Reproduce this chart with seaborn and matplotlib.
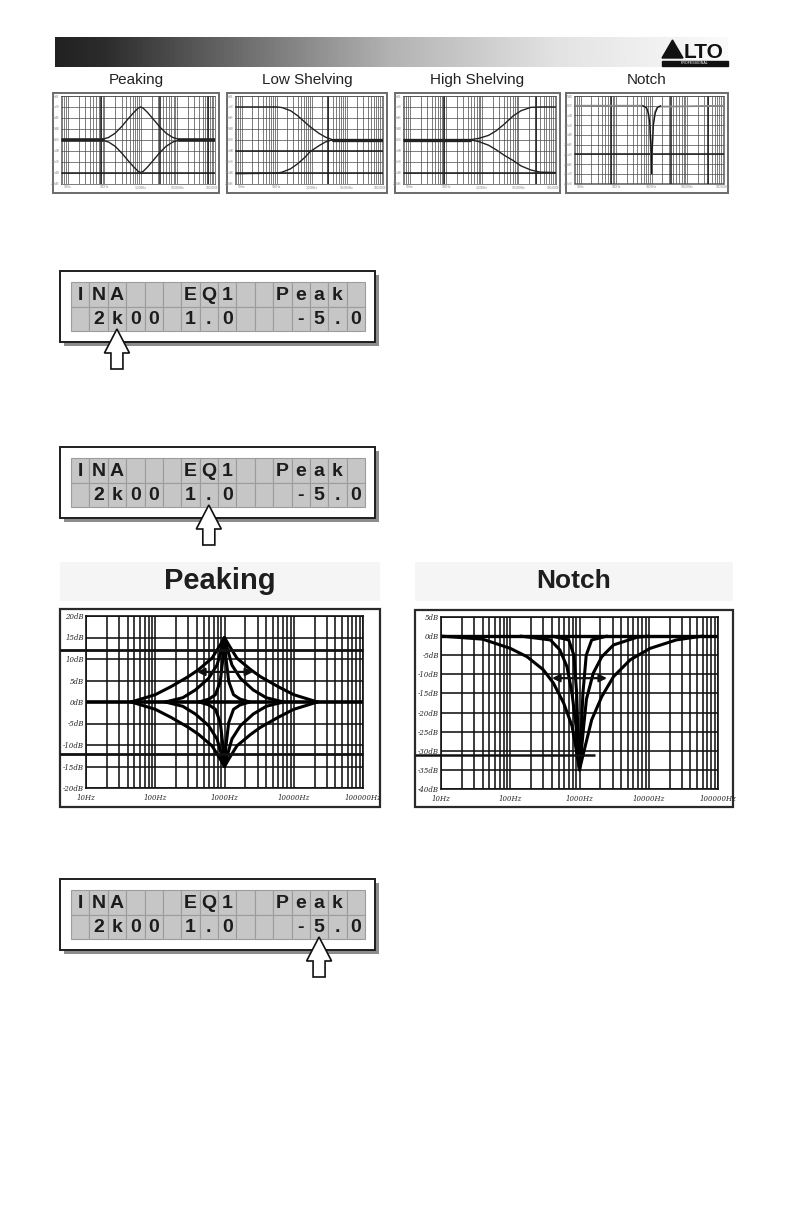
import numpy as np
import matplotlib
matplotlib.use("Agg")
import matplotlib.pyplot as plt
import seaborn as sns
from matplotlib.patches import Rectangle, Polygon
from matplotlib.ticker import LogLocator, NullFormatter

W, H = 793, 1225

# ---------------- data read from the page ----------------
FREQ_TICKS = [10, 100, 1000, 10000, 100000]
SMALL_FREQ_LABELS = ["10Hz", "100Hz", "1,000Hz", "10,000Hz", "100,000Hz"]
NOTCH_FREQ_LABELS = ["10Hz", "100Hz", "1000Hz", "10000Hz", "100000Hz"]
BIG_FREQ_LABELS = ["10Hz", "100Hz", "1000Hz", "10000Hz", "100000Hz"]

SMALL_TITLES = ["Peaking", "Low Shelving", "High Shelving", "Notch"]

# small peaking
SP_HZ = [80, 130, 200, 300, 450, 650, 850, 1000, 1180, 1540, 2200, 3300, 5000, 7700, 12500]
SP_BOOST = [0, 1, 3, 6, 9.5, 12.5, 14.4, 15, 14.4, 12.5, 9.5, 6, 3, 1, 0]
SP_CUT = [0, -1, -3, -6, -9.5, -12.5, -14.4, -15, -14.4, -12.5, -9.5, -6, -3, -1, 0]
SP_FLAT_LEFT = [6.5, 90]
SP_FLAT_RIGHT = [11000, 110000]

# small low shelving
LS_HZ = [6.5, 100, 145, 250, 400, 650, 900, 1600, 2500, 4000]
LS_TOP = [15, 15, 14.7, 13.3, 11, 8, 6, 3, 1.2, 0]
LS_BOTTOM = [-15.5, -15.3, -14.8, -13.3, -11, -8, -5.5, -2.8, -1, 0]
LS_FLAT = [4000, 110000]

# small high shelving
HS_HZ = [6.5, 450, 800, 1500, 2400, 4000, 7200, 12000, 22000, 40000, 110000]
HS_TOP = [0, 0, 0.6, 2, 4, 7, 10.9, 13.3, 14.8, 15, 15]
HS_BOTTOM = [0, 0, -0.8, -2.5, -4.5, -7, -9.5, -12, -13.8, -14.8, -15]
HS_FLAT = [6.5, 450]

# small notch
NS_GRAY_HZ = [6.5, 550, 700, 800, 880, 940, 980, 1000, 1030, 1100, 1250, 1500, 110000]
NS_GRAY_DB = [0, 0, -1, -4, -10, -20, -30, -35, -25, -10, -3, -0.5, 0]
NS_HZ = [560, 720, 820, 900, 960, 1000, 1040, 1120, 1260, 1450, 1800]
NS_DB = [0, -1, -4, -10, -22, -35, -22, -10, -4, -1, 0]

# big peaking
PK_DB_TICKS = [20, 15, 10, 5, 0, -5, -10, -15, -20]
PK_WIDE_HZ = [45, 100, 170, 300, 420, 660, 870, 1000, 1150, 1510, 2400, 3300, 5900, 10000, 22000]
PK_WIDE_UP = [0, 1.7, 3.6, 5.9, 7.5, 10.2, 13.3, 15, 13.3, 10.2, 7.5, 5.9, 3.6, 1.7, 0]
PK_WIDE_DOWN = [0, -1.7, -3.6, -5.9, -7.5, -10.2, -13.3, -15, -13.3, -10.2, -7.5, -5.9, -3.6, -1.7, 0]
PK_MID_HZ = [140, 250, 380, 590, 780, 910, 1000, 1100, 1280, 1700, 2600, 4000, 7100]
PK_MID_UP = [0, 1, 2.8, 5.5, 8.6, 12.4, 15, 12.4, 8.6, 5.5, 2.8, 1, 0]
PK_MID_DOWN = [0, -1, -2.8, -5.5, -8.6, -12.4, -15, -12.4, -8.6, -5.5, -2.8, -1, 0]
PK_SHARP_HZ = [430, 600, 740, 870, 950, 1000, 1050, 1150, 1350, 1670, 2300]
PK_SHARP_UP = [0, 0.7, 1.7, 4.8, 10.2, 15, 10.2, 4.8, 1.7, 0.7, 0]
PK_SHARP_DOWN = [0, -0.7, -1.7, -4.8, -10.2, -15, -10.2, -4.8, -1.7, -0.7, 0]
PK_FLAT = [10, 100000]
PK_MARK_LEVELS = [12, -12]
PK_ARROW = (400, 2600, 7)

# big notch
NT_DB_TICKS = [5, 0, -5, -10, -15, -20, -25, -30, -35, -40]
NT_WIDE_HZ = [10, 40, 100, 175, 300, 420, 590, 780, 910, 1000, 1150, 1500, 2100, 3100, 5400, 10500, 25000, 60000]
NT_WIDE_DB = [0, -0.8, -3.2, -5.4, -8.8, -12.3, -17.5, -23.5, -30.4, -35, -30.4, -21.9, -15.8, -10.6, -6.2, -3.2, -1, 0]
NT_MID_HZ = [140, 380, 520, 660, 780, 890, 960, 1000, 1040, 1150, 1260, 1580, 2100, 3100, 6800, 10000]
NT_MID_DB = [0, -1, -3.6, -8, -15, -23.5, -32, -35, -32, -23.5, -16.5, -9.7, -5.4, -2.3, -0.3, 0]
NT_SHARP_HZ = [400, 700, 830, 910, 960, 1000, 1040, 1120, 1250, 1500, 2500]
NT_SHARP_DB = [0, -1, -5, -15, -28, -35, -28, -15, -5, -1, 0]
NT_FLAT = [10, 100000]
NT_MARK = (-31, 1660)
NT_ARROW = (400, 2500, -11)

# LCD screens
LCD_ROW1 = "INA   EQ1  Peak "
LCD_ROW2 = " 2k00 1.0   -5.0"
LCD_CURSOR_COLS = [2, 7, 13]

# ---------------- style ----------------
sns.set_theme(style="white")
plt.rcParams['font.family'] = ['Liberation Sans', 'DejaVu Sans']


def px_rect(x0, y0, x1, y1):
    return [x0 / W, 1 - y1 / H, (x1 - x0) / W, (y1 - y0) / H]


def curve(ax, hz, db, lw=2.2, color='black'):
    sns.lineplot(x=hz, y=db, ax=ax, estimator=None, sort=False, color=color,
                 linewidth=lw, solid_joinstyle='round', solid_capstyle='round', legend=False)


fig = plt.figure(figsize=(W / 100, H / 100), dpi=100)
bg = fig.add_axes([0, 0, 1, 1])
bg.axis('off')

# ---------------- header bar ----------------
t = np.linspace(0, 1, 400)
grad = np.interp(t, [0, 0.07, 0.5, 0.75, 1], [0.13, 0.17, 0.70, 0.89, 0.98])[None, :]
bg.imshow(grad, extent=(55, 728, 67, 37), cmap='gray', vmin=0, vmax=1, aspect='auto', zorder=0)
bg.add_patch(Polygon([(662, 58), (672.5, 40), (683, 58)], closed=True, color='#111', zorder=2))
bg.text(683.5, 58, "LTO", fontsize=15, fontweight='bold', color='#111', ha='left', va='baseline', zorder=2)
bg.add_patch(Rectangle((662, 60.5), 66, 5, color='#111', zorder=2))
bg.text(695, 63, "PROFESSIONAL", fontsize=2.6, color='white', ha='center', va='center', zorder=3)

# ---------------- small charts ----------------
SMALL_BOXES = [(53, 93, 219, 193), (227, 93, 387, 193), (395, 93, 560, 193), (566, 93, 728, 193)]


def small_chart(i, ylim, dark_v, dark_h, xlabels):
    x0, y0, x1, y1 = SMALL_BOXES[i]
    bg.text((x0 + x1) / 2, 80, SMALL_TITLES[i], fontsize=11, ha='center', va='center', color='#222')
    bg.add_patch(Rectangle((x0, y0), x1 - x0, y1 - y0, fill=False, ec='#6a6a6a', lw=1.4))
    ax = fig.add_axes(px_rect(x0 + 8, 96, x1 - 4, 183.5))
    ax.set_xscale('log')
    ax.set_xticks(FREQ_TICKS, labels=xlabels)
    ax.xaxis.set_minor_locator(LogLocator(base=10, subs=np.arange(2, 10), numticks=60))
    ax.xaxis.set_minor_formatter(NullFormatter())
    yt = np.arange(ylim[0], ylim[1] + 1, 5)
    ax.set_yticks(yt, labels=[f"{int(v)}dB" for v in yt])
    ax.grid(True, which='both', axis='x', color='#4a4a4a', lw=0.5)
    ax.grid(True, which='major', axis='y', color='#4a4a4a', lw=0.5)
    ax.tick_params(which='both', length=0, pad=1.2, labelsize=2.3, labelcolor='#888')
    for s in ax.spines.values():
        s.set_color('#4a4a4a')
        s.set_linewidth(0.5)
    for v in dark_v:
        ax.axvline(v, color='#1a1a1a', lw=1.1, zorder=1)
    for h in dark_h:
        ax.axhline(h, color='#1a1a1a', lw=1.1, zorder=1)
    ax.set_facecolor('white')
    return ax


ax = small_chart(0, (-20, 20), [80, 3500, 70000], [-15], SMALL_FREQ_LABELS)
curve(ax, SP_HZ, SP_BOOST, lw=1.0, color='#222')
curve(ax, SP_HZ, SP_CUT, lw=1.0, color='#222')
curve(ax, SP_FLAT_LEFT, [0, 0], lw=2.6, color='#222')
curve(ax, SP_FLAT_RIGHT, [0, 0], lw=2.6, color='#222')
ax.set_xlim(6.5, 110000); ax.set_ylim(-20, 20); ax.set_xlabel(''); ax.set_ylabel('')

ax = small_chart(1, (-20, 20), [3000], [-5, -15], SMALL_FREQ_LABELS)
curve(ax, LS_HZ, LS_TOP, lw=1.0, color='#222')
curve(ax, LS_HZ, LS_BOTTOM, lw=1.0, color='#222')
curve(ax, LS_FLAT, [0, 0], lw=2.4, color='#222')
ax.set_xlim(6.5, 110000); ax.set_ylim(-20, 20); ax.set_xlabel(''); ax.set_ylabel('')

ax = small_chart(2, (-20, 20), [90, 30000], [-15], SMALL_FREQ_LABELS)
curve(ax, HS_HZ, HS_TOP, lw=1.0, color='#222')
curve(ax, HS_HZ, HS_BOTTOM, lw=1.0, color='#222')
curve(ax, HS_FLAT, [0, 0], lw=2.4, color='#222')
ax.set_xlim(6.5, 110000); ax.set_ylim(-20, 20); ax.set_xlabel(''); ax.set_ylabel('')

ax = small_chart(3, (-40, 5), [70, 3500, 40000], [-25], NOTCH_FREQ_LABELS)
curve(ax, NS_GRAY_HZ, NS_GRAY_DB, lw=1.3, color='#8a8a8a')
curve(ax, NS_HZ, NS_DB, lw=0.9, color='#111')
ax.set_xlim(6.5, 110000); ax.set_ylim(-40, 5); ax.set_xlabel(''); ax.set_ylabel('')

# ---------------- LCD screens ----------------
LCD_TOPS = [271, 447, 879]
CELL_W = (365 - 71) / 16
for top, col in zip(LCD_TOPS, LCD_CURSOR_COLS):
    bg.add_patch(Rectangle((64, top + 4), 315, 71, color='#8c8c8c', lw=0, zorder=1))
    bg.add_patch(Rectangle((60, top), 315, 71, fc='white', ec='#1e1e1e', lw=1.4, zorder=2))
    for r, row in enumerate([LCD_ROW1, LCD_ROW2]):
        cy = top + 11 + r * 24.5
        for c, ch in enumerate(row):
            cx = 71 + c * CELL_W
            bg.add_patch(Rectangle((cx, cy), CELL_W, 24.5, fc='#c6c6c6', ec='#9c9c9c', lw=0.8, zorder=3))
            if ch != ' ':
                bg.text(cx + CELL_W / 2, cy + 13, ch, fontsize=14, fontweight='bold',
                        ha='center', va='center', color='#1c1c1c', zorder=4)
    ax_c = 71 + (col + 0.5) * CELL_W
    arrow = [(ax_c, top + 58), (ax_c + 12.5, top + 82), (ax_c + 6, top + 82), (ax_c + 6, top + 98),
             (ax_c - 6, top + 98), (ax_c - 6, top + 82), (ax_c - 12.5, top + 82)]
    bg.add_patch(Polygon(arrow, closed=True, fc='white', ec='#111', lw=1.2, zorder=5))

# ---------------- big charts ----------------
TICK_FONT = dict(fontsize=5, fontstyle='italic', fontfamily='DejaVu Serif', color='#222')


def big_chart(box, plot, title, tsize, ylim, yticks):
    bx0, by0, bx1, by1 = box
    bg.add_patch(Rectangle((bx0, 562), bx1 - bx0, 39, color='#f5f5f5', lw=0, zorder=1))
    bg.text((bx0 + bx1) / 2, 581, title, fontsize=tsize, fontweight='bold', ha='center',
            va='center', color='#1e1e1e', zorder=2)
    bg.add_patch(Rectangle((bx0, by0), bx1 - bx0, by1 - by0, fc='white', ec='#2a2a2a', lw=1.6, zorder=1))
    ax = fig.add_axes(px_rect(*plot))
    ax.set_xscale('log')
    ax.set_xticks(FREQ_TICKS, labels=BIG_FREQ_LABELS, **TICK_FONT)
    ax.xaxis.set_minor_locator(LogLocator(base=10, subs=np.arange(2, 10), numticks=60))
    ax.xaxis.set_minor_formatter(NullFormatter())
    ax.set_yticks(yticks, labels=[f"{v}dB" for v in yticks], **TICK_FONT)
    ax.grid(True, which='both', axis='x', color='#111', lw=1.15)
    ax.grid(True, which='major', axis='y', color='#111', lw=1.15)
    ax.tick_params(which='both', length=0)
    ax.tick_params(axis='x', pad=4.5)
    ax.tick_params(axis='y', pad=1.5)
    for s in ax.spines.values():
        s.set_color('#111')
        s.set_linewidth(1.2)
    return ax


ax = big_chart((60, 609, 380, 807), (86, 616, 363, 788), "Peaking", 21, (-20, 20), PK_DB_TICKS)
curve(ax, PK_FLAT, [0, 0], lw=2.6)
for hz, up, down in [(PK_WIDE_HZ, PK_WIDE_UP, PK_WIDE_DOWN),
                     (PK_MID_HZ, PK_MID_UP, PK_MID_DOWN),
                     (PK_SHARP_HZ, PK_SHARP_UP, PK_SHARP_DOWN)]:
    curve(ax, hz, up)
    curve(ax, hz, down)
ax.hlines(PK_MARK_LEVELS, 4.2, 100000, color='#111', lw=2.0, clip_on=False, zorder=3)
ax.annotate('', xy=(PK_ARROW[1], PK_ARROW[2]), xytext=(PK_ARROW[0], PK_ARROW[2]),
            arrowprops=dict(arrowstyle='<|-|>', color='#111', lw=1.6, mutation_scale=11, shrinkA=0, shrinkB=0))
ax.set_xlim(10, 100000); ax.set_ylim(-20, 20); ax.set_xlabel(''); ax.set_ylabel('')

ax = big_chart((415, 610, 733, 807), (441, 617, 718, 789), "Notch", 19, (-40, 5), NT_DB_TICKS)
curve(ax, NT_FLAT, [0, 0], lw=2.4)
curve(ax, NT_WIDE_HZ, NT_WIDE_DB)
curve(ax, NT_MID_HZ, NT_MID_DB)
curve(ax, NT_SHARP_HZ, NT_SHARP_DB)
ax.hlines([NT_MARK[0]], 4.2, NT_MARK[1], color='#111', lw=1.8, clip_on=False, zorder=3)
ax.annotate('', xy=(NT_ARROW[1], NT_ARROW[2]), xytext=(NT_ARROW[0], NT_ARROW[2]),
            arrowprops=dict(arrowstyle='<|-|>', color='#111', lw=1.6, mutation_scale=11, shrinkA=0, shrinkB=0))
ax.set_xlim(10, 100000); ax.set_ylim(-40, 5); ax.set_xlabel(''); ax.set_ylabel('')

bg.set_xlim(0, W)
bg.set_ylim(H, 0)

fig.savefig("out.png", dpi=100, facecolor='white')
